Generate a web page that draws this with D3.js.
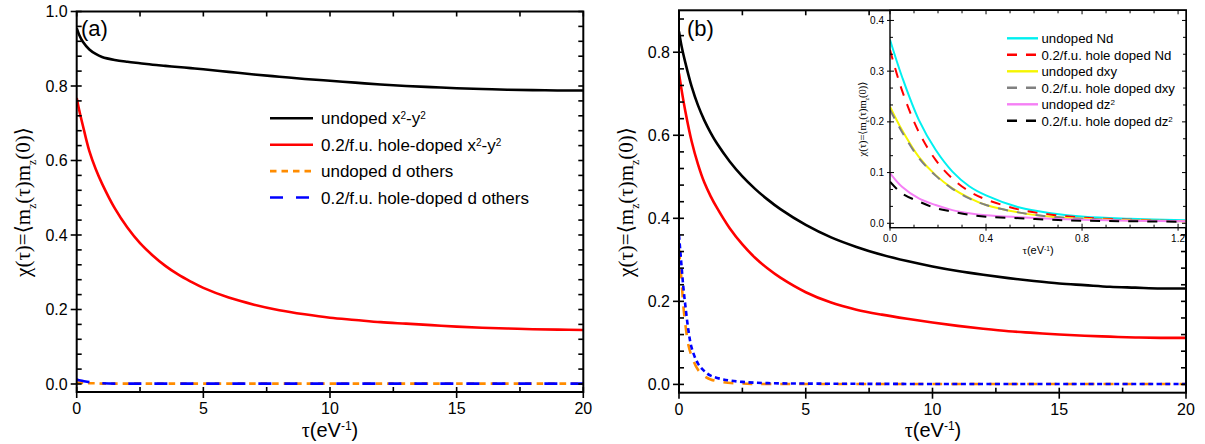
<!DOCTYPE html>
<html>
<head>
<meta charset="utf-8">
<script src="https://cdn.jsdelivr.net/npm/d3@7"></script>
<style>
  body { margin: 0; background: #fff; }
  text { font-family: "Liberation Sans", Arial, sans-serif; fill: #000; }
  .serif { font-family: "Liberation Serif", "DejaVu Serif", serif; }
</style>
</head>
<body>
<script>
// ---- data ----
// panel (a)
var tauA = [0, 0.1, 0.25, 0.5, 0.75, 1, 1.5, 2, 2.5, 3, 3.5, 4, 4.5, 5, 6, 7, 8, 9, 10, 11, 12, 13, 14, 15, 16, 17, 18, 19, 20];
var undopedX2A = [0.955, 0.937, 0.918, 0.898, 0.886, 0.878, 0.870, 0.865, 0.861, 0.857, 0.854, 0.851, 0.848, 0.845, 0.838, 0.831, 0.825, 0.819, 0.814, 0.809, 0.804, 0.800, 0.797, 0.794, 0.792, 0.790, 0.789, 0.788, 0.788];
var dopedX2A = [0.768, 0.735, 0.692, 0.625, 0.577, 0.538, 0.472, 0.420, 0.378, 0.345, 0.317, 0.294, 0.275, 0.258, 0.232, 0.213, 0.198, 0.187, 0.178, 0.172, 0.166, 0.162, 0.158, 0.154, 0.151, 0.149, 0.147, 0.146, 0.145];
var undopedOthA = [0.004, 0.004, 0.003, 0.002, 0.002, 0.001, 0.001, 0.001, 0.001, 0.001, 0.001, 0.001, 0.001, 0.001, 0.001, 0.001, 0.001, 0.001, 0.001, 0.001, 0.001, 0.001, 0.001, 0.001, 0.001, 0.001, 0.001, 0.001, 0.001];
var dopedOthA = [0.012, 0.010, 0.008, 0.005, 0.003, 0.002, 0.001, 0.001, 0.001, 0.001, 0.001, 0.001, 0.001, 0.001, 0.001, 0.001, 0.001, 0.001, 0.001, 0.001, 0.001, 0.001, 0.001, 0.001, 0.001, 0.001, 0.001, 0.001, 0.001];

// panel (b)
var tauB = [0, 0.1, 0.25, 0.5, 0.75, 1, 1.25, 1.5, 2, 2.5, 3, 3.5, 4, 5, 6, 7, 8, 9, 10, 11, 12, 13, 14, 15, 16, 17, 18, 19, 20];
var undopedX2B = [0.850, 0.815, 0.775, 0.717, 0.672, 0.636, 0.606, 0.580, 0.537, 0.501, 0.471, 0.445, 0.422, 0.384, 0.354, 0.331, 0.312, 0.297, 0.284, 0.273, 0.264, 0.256, 0.249, 0.243, 0.239, 0.235, 0.233, 0.231, 0.231];
var dopedX2B = [0.749, 0.710, 0.658, 0.585, 0.530, 0.486, 0.453, 0.425, 0.376, 0.337, 0.305, 0.279, 0.257, 0.222, 0.197, 0.180, 0.168, 0.158, 0.149, 0.141, 0.134, 0.128, 0.124, 0.120, 0.117, 0.115, 0.113, 0.112, 0.112];
var tauBd = [0, 0.1, 0.17, 0.25, 0.37, 0.5, 0.75, 1, 1.25, 1.75, 2.5, 3.5, 5, 10, 20];
var undopedOthB = [0.325, 0.250, 0.190, 0.145, 0.095, 0.068, 0.035, 0.020, 0.012, 0.005, 0.002, 0.001, 0.001, 0.001, 0.001];
var dopedOthB = [0.360, 0.285, 0.235, 0.190, 0.131, 0.088, 0.050, 0.032, 0.021, 0.012, 0.006, 0.003, 0.002, 0.001, 0.001];

// inset of (b)
var tauIn = [0, 0.05, 0.12, 0.19, 0.26, 0.33, 0.4, 0.54, 0.67, 0.81, 1.0, 1.23];
var undopedNd = [0.362, 0.289, 0.204, 0.145, 0.102, 0.073, 0.055, 0.031, 0.020, 0.013, 0.009, 0.006];
var dopedNd = [0.342, 0.262, 0.180, 0.125, 0.088, 0.063, 0.047, 0.027, 0.017, 0.011, 0.007, 0.004];
var undopedDxy = [0.230, 0.184, 0.131, 0.095, 0.069, 0.050, 0.036, 0.021, 0.013, 0.009, 0.006, 0.004];
var dopedDxy = [0.224, 0.180, 0.129, 0.094, 0.068, 0.049, 0.036, 0.021, 0.013, 0.009, 0.006, 0.004];
var undopedDz2 = [0.099, 0.072, 0.049, 0.036, 0.026, 0.020, 0.016, 0.012, 0.009, 0.007, 0.005, 0.004];
var dopedDz2 = [0.082, 0.059, 0.043, 0.030, 0.023, 0.017, 0.013, 0.010, 0.007, 0.005, 0.004, 0.003];

// tick labels
var xTicksMain = [0, 5, 10, 15, 20];
var yTicksA = [0, 0.2, 0.4, 0.6, 0.8, 1.0];
var yTicksB = [0, 0.2, 0.4, 0.6, 0.8];
var xTicksIn = [0, 0.4, 0.8, 1.2];
var yTicksIn = [0, 0.1, 0.2, 0.3, 0.4];

var svg = d3.select("body").append("svg").attr("width", 1205).attr("height", 444);

/** frame with mirrored ticks **/
function frame(g, x, y, o) {
	var xr = x.range(), yr = y.range();
	var tk = g.append("g").attr("stroke", "#000").attr("stroke-width", o.tw);
	o.xMajor.forEach(function(v) {
		tk.append("line").attr("x1", x(v)).attr("x2", x(v)).attr("y1", yr[0] + o.out).attr("y2", yr[0] - o.inMaj);
		tk.append("line").attr("x1", x(v)).attr("x2", x(v)).attr("y1", yr[1]).attr("y2", yr[1] + o.inMaj);
	});
	o.xMinor.forEach(function(v) {
		tk.append("line").attr("x1", x(v)).attr("x2", x(v)).attr("y1", yr[0]).attr("y2", yr[0] - o.inMin);
		tk.append("line").attr("x1", x(v)).attr("x2", x(v)).attr("y1", yr[1]).attr("y2", yr[1] + o.inMin);
	});
	o.yMajor.forEach(function(v) {
		tk.append("line").attr("y1", y(v)).attr("y2", y(v)).attr("x1", xr[0] - o.out).attr("x2", xr[0] + o.inMaj);
		tk.append("line").attr("y1", y(v)).attr("y2", y(v)).attr("x1", xr[1]).attr("x2", xr[1] - o.inMaj);
	});
	o.yMinor.forEach(function(v) {
		tk.append("line").attr("y1", y(v)).attr("y2", y(v)).attr("x1", xr[0]).attr("x2", xr[0] + o.inMin);
		tk.append("line").attr("y1", y(v)).attr("y2", y(v)).attr("x1", xr[1]).attr("x2", xr[1] - o.inMin);
	});
	g.append("rect")
		.attr("x", xr[0]).attr("y", yr[1])
		.attr("width", xr[1] - xr[0]).attr("height", yr[0] - yr[1])
		.attr("fill", "none").attr("stroke", "#000").attr("stroke-width", o.bw);
	g.selectAll(null).data(o.xMajor).enter().append("text")
		.attr("x", function(d) { return x(d); })
		.attr("y", yr[0] + o.xLabPad)
		.attr("text-anchor", "middle")
		.attr("font-size", o.fs)
		.text(o.xFmt);
	g.selectAll(null).data(o.yMajor).enter().append("text")
		.attr("x", xr[0] - o.yLabPad)
		.attr("y", function(d) { return y(d); })
		.attr("dy", "0.35em")
		.attr("text-anchor", "end")
		.attr("font-size", o.fs)
		.text(o.yFmt);
}

function minors(lo, hi, step, majorStep) {
	var out = [];
	var n = Math.round((hi - lo) / step);
	for (var i = 0; i <= n; i++) {
		var v = lo + i * step;
		var r = v / majorStep;
		if (Math.abs(r - Math.round(r)) > 1e-6) out.push(v);
	}
	return out;
}

function yLabel(g, xPos, yPos, fs) {
	var t = g.append("text").attr("class", "serif")
		.attr("transform", "translate(" + xPos + "," + yPos + ") rotate(-90)")
		.attr("text-anchor", "middle").attr("font-size", fs);
	t.append("tspan").text("\u03c7(\u03c4)=\u27e8m");
	t.append("tspan").attr("baseline-shift", "sub").attr("font-size", fs * 0.55).text("z");
	t.append("tspan").text("(\u03c4)m");
	t.append("tspan").attr("baseline-shift", "sub").attr("font-size", fs * 0.55).text("z");
	t.append("tspan").text("(0)\u27e9");
}

function xLabel(g, xPos, yPos, fs) {
	var t = g.append("text").attr("x", xPos).attr("y", yPos)
		.attr("text-anchor", "middle").attr("font-size", fs);
	t.append("tspan").attr("class", "serif").text("\u03c4");
	t.append("tspan").text("(eV");
	t.append("tspan").attr("baseline-shift", "super").attr("font-size", fs * 0.6).text("-1");
	t.append("tspan").text(")");
}

function curve(g, x, y, xs, ys, color, w, dash) {
	var line = d3.line()
		.x(function(d, i) { return x(xs[i]); })
		.y(function(d) { return y(d); })
		.curve(d3.curveCatmullRom.alpha(0.5));
	g.append("path").datum(ys)
		.attr("d", line)
		.attr("fill", "none")
		.attr("stroke", color)
		.attr("stroke-width", w)
		.attr("stroke-dasharray", dash || null);
}

var fmt1 = d3.format(".1f");
var mainOpts = { tw: 1.6, bw: 2, out: 6, inMaj: 5, inMin: 5, fs: 16, xLabPad: 22, yLabPad: 9,
	xFmt: function(d) { return d; }, yFmt: fmt1 };

/** Panel (a) **/
var xA = d3.scaleLinear().domain([0, 20]).range([76.7, 583.3]);
var yA = d3.scaleLinear().domain([-0.0215, 1.0]).range([392, 11.5]);
var gA = svg.append("g");
gA.append("clipPath").attr("id", "clipA").append("rect")
	.attr("x", 76.7).attr("y", 11.5).attr("width", 583.3 - 76.7).attr("height", 392 - 11.5);
var cA = gA.append("g").attr("clip-path", "url(#clipA)");
curve(cA, xA, yA, tauA, undopedX2A, "#000", 2.6);
curve(cA, xA, yA, tauA, dopedX2A, "#ff0000", 2.6);
curve(cA, xA, yA, tauA, undopedOthA, "#ff8c00", 2.6, "6.5,5");
curve(cA, xA, yA, tauA, dopedOthA, "#0000ff", 2.6, "13,13");
frame(gA, xA, yA, Object.assign({}, mainOpts, {
	xMajor: xTicksMain, xMinor: minors(0, 20, 2.5, 5),
	yMajor: yTicksA, yMinor: minors(0, 1.0, 0.04, 0.2)
}));
gA.append("text").attr("x", 81).attr("y", 36).attr("font-size", 22).text("(a)");
yLabel(gA, 30, 202, 21);
xLabel(gA, 330, 437, 20);

// legend (a)
var legA = [
	{ label: ["undoped x", "2", "-y", "2"], color: "#000", dash: null },
	{ label: ["0.2/f.u. hole-doped x", "2", "-y", "2"], color: "#ff0000", dash: null },
	{ label: ["undoped d others"], color: "#ff8c00", dash: "6.5,5" },
	{ label: ["0.2/f.u. hole-doped d others"], color: "#0000ff", dash: "13,13" }
];
legA.forEach(function(d, i) {
	var ly = 118.3 + i * 26.4;
	gA.append("line").attr("x1", 270).attr("x2", 313).attr("y1", ly).attr("y2", ly)
		.attr("stroke", d.color).attr("stroke-width", 2.6).attr("stroke-dasharray", d.dash);
	var t = gA.append("text").attr("x", 321).attr("y", ly + 6).attr("font-size", 17);
	d.label.forEach(function(s, j) {
		var sp = t.append("tspan").text(s);
		if (j % 2 == 1) sp.attr("baseline-shift", "super").attr("font-size", 10);
	});
});

/** Panel (b) **/
var xB = d3.scaleLinear().domain([0, 20]).range([679, 1186]);
var yB = d3.scaleLinear().domain([-0.02, 0.901]).range([392.7, 10.3]);
var gB = svg.append("g");
gB.append("clipPath").attr("id", "clipB").append("rect")
	.attr("x", 679).attr("y", 10.3).attr("width", 1186 - 679).attr("height", 392.7 - 10.3);
var cB = gB.append("g").attr("clip-path", "url(#clipB)");
curve(cB, xB, yB, tauB, undopedX2B, "#000", 2.6);
curve(cB, xB, yB, tauB, dopedX2B, "#ff0000", 2.6);
curve(cB, xB, yB, tauBd, undopedOthB, "#ff8c00", 2.6, "10,9");
curve(cB, xB, yB, tauBd, dopedOthB, "#0000ff", 2.6, "5,3.5");
frame(gB, xB, yB, Object.assign({}, mainOpts, {
	xMajor: xTicksMain, xMinor: minors(0, 20, 2.5, 5),
	yMajor: yTicksB, yMinor: minors(0, 0.88, 0.04, 0.2)
}));
gB.append("text").attr("x", 687).attr("y", 36).attr("font-size", 22).text("(b)");
yLabel(gB, 633, 202, 21);
xLabel(gB, 933, 437, 20);

/** Inset **/
var xI = d3.scaleLinear().domain([0, 1.233]).range([890, 1186]);
var yI = d3.scaleLinear().domain([-0.0087, 0.42]).range([227.7, 10.3]);
var gI = svg.append("g");
gI.append("rect").attr("x", 890).attr("y", 10.3).attr("width", 1186 - 890).attr("height", 227.7 - 10.3)
	.attr("fill", "#fff");
gI.append("clipPath").attr("id", "clipI").append("rect")
	.attr("x", 890).attr("y", 10.3).attr("width", 1186 - 890).attr("height", 227.7 - 10.3);
var cI = gI.append("g").attr("clip-path", "url(#clipI)");
var insetSeries = [
	{ v: undopedNd, color: "#00f0f0", dash: null, label: ["undoped Nd"] },
	{ v: dopedNd, color: "#ff0000", dash: "10,9", label: ["0.2/f.u. hole doped Nd"] },
	{ v: undopedDxy, color: "#f5f500", dash: null, label: ["undoped dxy"] },
	{ v: dopedDxy, color: "#808080", dash: "10,9", label: ["0.2/f.u. hole doped dxy"] },
	{ v: undopedDz2, color: "#f57ff5", dash: null, label: ["undoped dz", "2"] },
	{ v: dopedDz2, color: "#000", dash: "10,9", label: ["0.2/f.u. hole doped dz", "2"] }
];
insetSeries.forEach(function(s) { curve(cI, xI, yI, tauIn, s.v, s.color, 2, s.dash); });
frame(gI, xI, yI, { tw: 1, bw: 1.4, out: 3, inMaj: 4, inMin: 3, fs: 10, xLabPad: 14, yLabPad: 6,
	xFmt: fmt1, yFmt: fmt1,
	xMajor: xTicksIn, xMinor: minors(0, 1.2, 0.1, 0.4),
	yMajor: yTicksIn, yMinor: minors(0, 0.4, 0.1 / 3, 0.1) });
insetSeries.forEach(function(s, i) {
	var ly = 38.3 + i * 16.5;
	gI.append("line").attr("x1", 1007).attr("x2", 1038).attr("y1", ly).attr("y2", ly)
		.attr("stroke", s.color).attr("stroke-width", 2.4).attr("stroke-dasharray", s.dash);
	var t = gI.append("text").attr("x", 1041.5).attr("y", ly + 4.8).attr("font-size", 13.2);
	s.label.forEach(function(p, j) {
		var sp = t.append("tspan").text(p);
		if (j % 2 == 1) sp.attr("baseline-shift", "super").attr("font-size", 8);
	});
});
yLabel(gI, 866, 119, 10.5);
xLabel(gI, 1038, 254, 11);
</script>
</body>
</html>
